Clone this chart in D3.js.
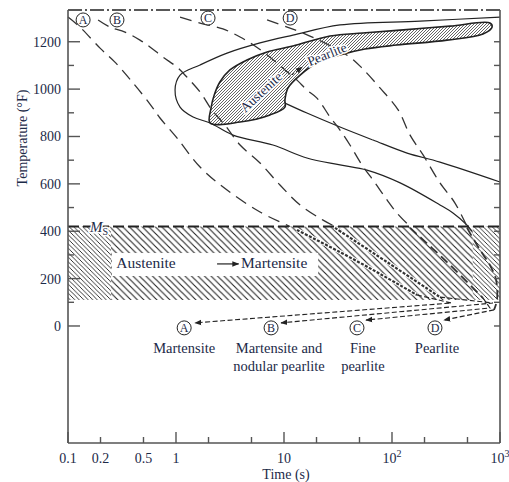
<!DOCTYPE html>
<html>
<head>
<meta charset="utf-8">
<script src="https://cdn.jsdelivr.net/npm/d3@7.9.0/dist/d3.min.js"></script>
<style>
  body { margin: 0; background: #fff; }
  svg { display: block; font-family: "Liberation Serif", "DejaVu Serif", serif; }
</style>
</head>
<body>
<svg id="chart" width="509" height="482"></svg>
<script>
// ---- data: [time (s), temperature (°F)] ----
const xMajorTicks = [0.1, 1, 10, 100, 1000];
const xMinorTicks = [0.2, 0.5, 2, 5, 20, 50, 200, 500];
const xTickLabels = [[0.1, "0.1"], [0.2, "0.2"], [0.5, "0.5"], [1, "1"], [10, "10"], [100, "10", "2"], [1000, "10", "3"]];
const yTickValues = [0, 100, 200, 300, 400, 500, 600, 700, 800, 900, 1000, 1100, 1200];
const yTickLabels = [0, 200, 400, 600, 800, 1000, 1200];

const msTemp = 420;
const msBottom = 110;
const topTemp = 1334;

// pearlite start C-curve (upper branch, nose, lower branch)
const pearliteStart = [[1000, 1304], [182, 1287], [33, 1271], [12.1, 1228], [6.0, 1195], [2.97, 1152],
  [1.67, 1102], [1.09, 1059], [0.98, 996], [1.09, 924], [1.44, 882], [2.07, 857], [3.37, 806],
  [7.9, 764], [16.3, 709], [33, 680], [58.7, 658], [119, 604], [278, 511], [367, 477], [495, 426], [551, 400]];
// second solid line from the transformation band to the right edge
const pearliteLine = [[10.2, 941], [16.3, 899], [33, 840], [66.7, 785], [138, 730], [278, 692], [1000, 608]];

// hatched band "Austenite -> Pearlite"
const pearliteBand = [[2.07, 857], [2.11, 920], [2.26, 975], [2.55, 1030], [3.16, 1081], [4.54, 1123],
  [6.97, 1157], [12.1, 1182], [26.7, 1224], [53.8, 1237], [119, 1249], [344, 1266], [807, 1279],
  [845, 1262], [696, 1233], [323, 1207], [111, 1186], [56.2, 1169], [33, 1144], [20.2, 1110],
  [14.1, 1059], [10.9, 1005], [10.2, 954], [10.2, 924], [7.42, 891], [3.92, 861]];

// cooling curves above Ms
const coolA = [[0.1, 1304], [0.129, 1262], [0.198, 1173], [0.272, 1114], [0.40, 1026], [0.574, 937],
  [0.711, 878], [1.02, 794], [1.67, 671], [2.97, 574], [6.0, 481], [11.4, 420]];
const coolB = [[0.19, 1292], [0.245, 1262], [0.337, 1241], [0.464, 1207], [0.574, 1178], [0.758, 1135],
  [1.02, 1093], [1.26, 1051], [1.67, 988], [2.15, 912], [2.84, 848], [3.92, 764], [6.0, 688],
  [9.18, 595], [14.1, 511], [23.0, 447], [29.7, 420]];
const coolC = [[1.09, 1304], [1.67, 1279], [2.72, 1254], [3.92, 1220], [5.38, 1182], [7.42, 1135],
  [10.2, 1081], [13.2, 1038], [16.3, 996], [20.2, 962], [26.7, 882], [33, 827], [40.8, 764],
  [52.7, 680], [69.7, 604], [89.9, 532], [111, 477], [147, 420]];
const coolD = [[6.97, 1292], [10.7, 1262], [15.6, 1233], [25.0, 1190], [40.8, 1135], [52.7, 1089],
  [77.4, 1005], [114, 912], [147, 806], [194, 722], [278, 604], [383, 519], [495, 420]];

// the same curves inside the martensite band
const bandA = [[13.2, 405], [33, 312], [77.4, 220], [170, 131]];
const bandB = [[29.7, 414], [89.9, 270], [278, 122]];
const bandC = [[147, 414], [323, 270], [696, 118]];
const bandD = [[495, 414], [653, 321], [807, 257], [920, 194], [938, 110], [880, 68]];

// tails leading to the resulting structures
const tailA = [[170, 131], [355, 97], [1.5, 13]];
const tailB = [[278, 122], [861, 97], [9.38, 13]];
const tailC = [[696, 118], [807, 76], [57.4, 25]];
const tailD = [[880, 68], [303, 25]];

const startKeys = ["A", "B", "C", "D"];
const startT = [0.138, 0.284, 1.98, 11.4];
const startTemp = [1292, 1292, 1300, 1300];

const outcomeKeys = ["A", "B", "C", "D"];
const outcomeCircleT = [1.19, 7.59, 47.4, 250];
const outcomeTextT = [1.19, 9.0, 53.8, 261];
const outcomeLines = [["Martensite"], ["Martensite and", "nodular pearlite"], ["Fine", "pearlite"], ["Pearlite"]];
const outcomeTemp = -8;

// ---- chart ----
const ink = "#222";
const textInk = "#1c2a48";
const svg = d3.select("#chart");

const x = d3.scaleLog().domain([0.1, 1000]).range([68, 500]);
const y = d3.scaleLinear().domain([-494, topTemp]).range([443, 10]);

const smooth = d3.line().x(d => x(d[0])).y(d => y(d[1])).curve(d3.curveCatmullRom.alpha(0.5));
const straight = d3.line().x(d => x(d[0])).y(d => y(d[1]));

const defs = svg.append("defs");
function hatch(id, size, dir, w) {
  const p = defs.append("pattern").attr("id", id).attr("patternUnits", "userSpaceOnUse")
    .attr("width", size).attr("height", size);
  const s = size;
  const d = dir === "\\"
    ? `M0,0L${s},${s}M${-s / 2},${s / 2}L${s / 2},${s * 1.5}M${s / 2},${-s / 2}L${s * 1.5},${s / 2}`
    : `M0,${s}L${s},0M${-s / 2},${s / 2}L${s / 2},${-s / 2}M${s / 2},${s * 1.5}L${s * 1.5},${s / 2}`;
  p.append("path").attr("d", d).attr("stroke", ink).attr("stroke-width", w);
}
hatch("msHatch", 6.5, "\\", 1.1);
hatch("msDense", 4.5, "\\", 0.9);
hatch("pHatch", 3, "/", 0.7);

defs.append("marker").attr("id", "arrow").attr("viewBox", "0 0 10 10")
  .attr("refX", 9).attr("refY", 5).attr("markerWidth", 7).attr("markerHeight", 7)
  .attr("orient", "auto").attr("markerUnits", "userSpaceOnUse")
  .append("path").attr("d", "M0,1L10,5L0,9Z").attr("fill", ink);

// martensite band
const bandG = svg.append("g");
bandG.append("rect").attr("x", x(0.1)).attr("y", y(msTemp))
  .attr("width", x(1000) - x(0.1)).attr("height", y(msBottom) - y(msTemp)).attr("fill", "url(#msHatch)");
bandG.append("rect").attr("x", x(0.1)).attr("y", y(msTemp))
  .attr("width", x(0.25) - x(0.1)).attr("height", y(msBottom) - y(msTemp)).attr("fill", "#fff");
bandG.append("rect").attr("x", x(0.1)).attr("y", y(msTemp))
  .attr("width", x(0.25) - x(0.1)).attr("height", y(msBottom) - y(msTemp)).attr("fill", "url(#msDense)");
bandG.append("rect").attr("x", x(560)).attr("y", y(msTemp))
  .attr("width", x(1000) - x(560)).attr("height", y(msBottom) - y(msTemp)).attr("fill", "#fff");
bandG.append("rect").attr("x", x(560)).attr("y", y(msTemp))
  .attr("width", x(1000) - x(560)).attr("height", y(msBottom) - y(msTemp)).attr("fill", "url(#msDense)");
bandG.append("rect").attr("x", x(0.255)).attr("y", y(308))
  .attr("width", x(20.7) - x(0.255)).attr("height", y(211) - y(308)).attr("fill", "#fff");
bandG.append("line").attr("x1", x(0.1)).attr("x2", x(1000)).attr("y1", y(msTemp)).attr("y2", y(msTemp))
  .attr("stroke", ink).attr("stroke-width", 2).attr("stroke-dasharray", "11,4");

// pearlite transformation band
svg.append("path").attr("d", d3.line().x(d => x(d[0])).y(d => y(d[1]))
    .curve(d3.curveCatmullRomClosed.alpha(0.5))(pearliteBand))
  .attr("fill", "url(#pHatch)").attr("stroke", ink).attr("stroke-width", 1.6);

// solid curves
[pearliteStart, pearliteLine].forEach(c => {
  svg.append("path").attr("d", smooth(c)).attr("fill", "none").attr("stroke", ink).attr("stroke-width", 1.2);
});

// cooling curves
[coolA, coolB, coolC, coolD].forEach(c => {
  svg.append("path").attr("d", smooth(c)).attr("fill", "none").attr("stroke", "#333")
    .attr("stroke-width", 1.3).attr("stroke-dasharray", "12,7");
});
[bandA, bandB].forEach(c => {
  svg.append("path").attr("d", smooth(c)).attr("fill", "none").attr("stroke", "#fff").attr("stroke-width", 4);
  svg.append("path").attr("d", smooth(c)).attr("fill", "none").attr("stroke", "#333")
    .attr("stroke-width", 2.2).attr("stroke-dasharray", "3,1.5");
});
[bandC, bandD].forEach(c => {
  svg.append("path").attr("d", smooth(c)).attr("fill", "none").attr("stroke", "#333")
    .attr("stroke-width", 1.8).attr("stroke-dasharray", "9,5");
});
[tailA, tailB, tailC, tailD].forEach(c => {
  svg.append("path").attr("d", straight(c)).attr("fill", "none").attr("stroke", ink)
    .attr("stroke-width", 1.1).attr("stroke-dasharray", "5,2.5").attr("marker-end", "url(#arrow)");
});

// band labels
function halo(sel) {
  return sel.attr("stroke", "#fff").attr("stroke-width", 3).attr("paint-order", "stroke");
}
halo(svg.append("text").attr("transform", `translate(${x(6.12)},${y(988)}) rotate(-43)`)
  .attr("text-anchor", "middle").attr("dy", "0.35em").attr("font-size", 13.5).attr("fill", textInk).text("Austenite"));
halo(svg.append("text").attr("transform", `translate(${x(25)},${y(1148)}) rotate(-22)`)
  .attr("text-anchor", "middle").attr("dy", "0.35em").attr("font-size", 13.5).attr("fill", textInk).text("Pearlite"));
svg.append("line").attr("x1", x(10.9)).attr("y1", y(1047)).attr("x2", x(14.7)).attr("y2", y(1093))
  .attr("stroke", ink).attr("stroke-width", 1).attr("stroke-dasharray", "3,2").attr("marker-end", "url(#arrow)");

svg.append("text").attr("x", x(0.28)).attr("y", y(245)).attr("font-size", 15.5).attr("fill", textInk).text("Austenite");
svg.append("line").attr("x1", x(2.4)).attr("x2", x(3.8)).attr("y1", y(262)).attr("y2", y(262))
  .attr("stroke", ink).attr("stroke-width", 1.2).attr("marker-end", "url(#arrow)");
svg.append("text").attr("x", x(4.0)).attr("y", y(245)).attr("font-size", 15.5).attr("fill", textInk).text("Martensite");

const ms = svg.append("text").attr("x", x(0.16)).attr("y", y(msTemp) + 5).attr("font-size", 15).attr("fill", textInk);
halo(ms);
ms.append("tspan").attr("font-style", "italic").text("M");
ms.append("tspan").attr("font-size", 10).attr("dy", 3).text("S");

// circled letters
function circled(cx, cy, key) {
  svg.append("circle").attr("cx", cx).attr("cy", cy).attr("r", 7).attr("fill", "#fff")
    .attr("stroke", ink).attr("stroke-width", 1);
  svg.append("text").attr("x", cx).attr("y", cy).attr("dy", "0.36em").attr("text-anchor", "middle")
    .attr("font-size", 12).attr("fill", textInk).text(key);
}

// frame & top line
svg.append("line").attr("x1", x(0.1)).attr("x2", x(1000)).attr("y1", y(topTemp)).attr("y2", y(topTemp))
  .attr("stroke", ink).attr("stroke-width", 1.3).attr("stroke-dasharray", "14,3,2,3");
svg.append("line").attr("x1", x(0.1)).attr("x2", x(0.1)).attr("y1", y(topTemp)).attr("y2", 443)
  .attr("stroke", "#555").attr("stroke-width", 1.6);
svg.append("line").attr("x1", x(1000)).attr("x2", x(1000)).attr("y1", y(topTemp)).attr("y2", 443)
  .attr("stroke", "#555").attr("stroke-width", 1.6);
svg.append("line").attr("x1", x(0.1)).attr("x2", x(1000)).attr("y1", 443).attr("y2", 443)
  .attr("stroke", "#555").attr("stroke-width", 1.6);

startKeys.forEach((k, i) => circled(x(startT[i]), y(startTemp[i]), k));
outcomeKeys.forEach((k, i) => {
  circled(x(outcomeCircleT[i]), y(outcomeTemp), k);
  outcomeLines[i].forEach((line, j) => {
    svg.append("text").attr("x", x(outcomeTextT[i])).attr("y", y(outcomeTemp) + 25 + j * 18)
      .attr("text-anchor", "middle").attr("font-size", 14.5).attr("fill", textInk).text(line);
  });
});

// y ticks
const axisColor = "#555";
yTickValues.forEach(v => {
  const major = v % 200 === 0;
  svg.append("line").attr("x1", x(0.1)).attr("x2", x(0.1) + (major ? 12 : 6)).attr("y1", y(v)).attr("y2", y(v))
    .attr("stroke", axisColor).attr("stroke-width", 1.4);
  svg.append("line").attr("x1", x(1000)).attr("x2", x(1000) - 6).attr("y1", y(v)).attr("y2", y(v))
    .attr("stroke", axisColor).attr("stroke-width", 1.4);
});
yTickLabels.forEach(v => {
  svg.append("text").attr("x", 61).attr("y", y(v)).attr("dy", "0.35em").attr("text-anchor", "end")
    .attr("font-size", 14).attr("fill", textInk).text(v);
});

// x ticks
xMajorTicks.forEach(v => {
  svg.append("line").attr("x1", x(v)).attr("x2", x(v)).attr("y1", 443).attr("y2", 432)
    .attr("stroke", axisColor).attr("stroke-width", 1.4);
});
xMinorTicks.forEach(v => {
  svg.append("line").attr("x1", x(v)).attr("x2", x(v)).attr("y1", 443).attr("y2", 437)
    .attr("stroke", axisColor).attr("stroke-width", 1.4);
});
xTickLabels.forEach(([v, base, sup]) => {
  const t = svg.append("text").attr("x", x(v)).attr("y", 463).attr("text-anchor", "middle")
    .attr("font-size", 14).attr("fill", textInk);
  t.append("tspan").text(base);
  if (sup) t.append("tspan").attr("font-size", 10).attr("dy", -6).text(sup);
});

svg.append("text").attr("x", 286).attr("y", 479).attr("text-anchor", "middle")
  .attr("font-size", 14).attr("fill", textInk).text("Time (s)");
svg.append("text").attr("transform", "translate(22,138) rotate(-90)").attr("text-anchor", "middle")
  .attr("dy", "0.35em").attr("font-size", 14).attr("fill", textInk).text("Temperature (°F)");
</script>
</body>
</html>
